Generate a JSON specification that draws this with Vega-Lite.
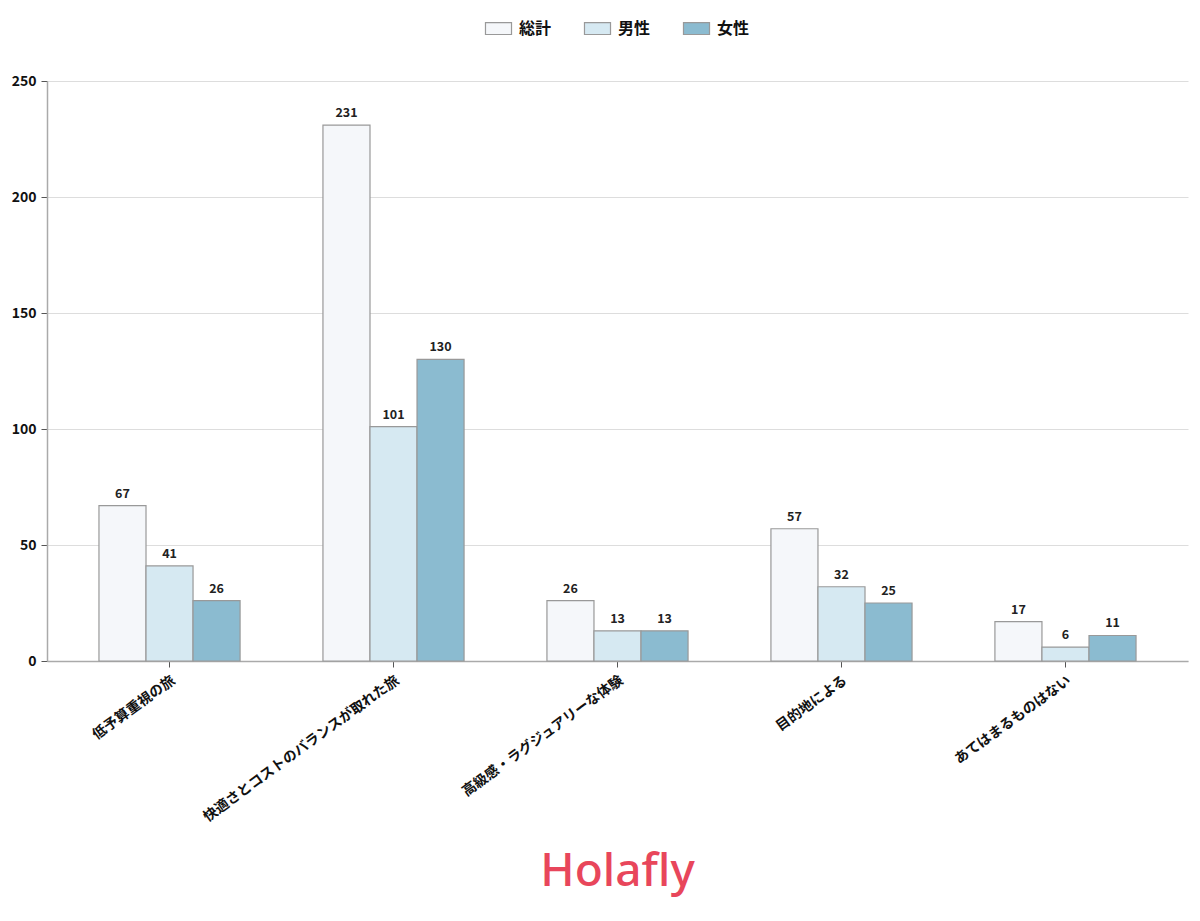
{
  "$schema": "https://vega.github.io/schema/vega-lite/v6.json",
  "autosize": {"type": "none"},
  "width": 1141,
  "height": 580,
  "padding": {"left": 47, "top": 81, "right": 12, "bottom": 260},
  "background": "white",
  "title": {
    "text": "Holafly",
    "orient": "bottom",
    "anchor": "middle",
    "offset": 26,
    "fontSize": 46,
    "font": "Noto Sans",
    "fontWeight": 500,
    "color": "#E8465B"
  },
  "config": {
    "font": "Noto Sans CJK JP",
    "view": {"stroke": null},
    "legend": {"layout": {"top": {"anchor": "middle"}}}
  },
  "data": {
    "values": [
      {"category": "低予算重視の旅", "group": "総計", "value": 67},
      {"category": "低予算重視の旅", "group": "男性", "value": 41},
      {"category": "低予算重視の旅", "group": "女性", "value": 26},
      {"category": "快適さとコストのバランスが取れた旅", "group": "総計", "value": 231},
      {"category": "快適さとコストのバランスが取れた旅", "group": "男性", "value": 101},
      {"category": "快適さとコストのバランスが取れた旅", "group": "女性", "value": 130},
      {"category": "高級感・ラグジュアリーな体験", "group": "総計", "value": 26},
      {"category": "高級感・ラグジュアリーな体験", "group": "男性", "value": 13},
      {"category": "高級感・ラグジュアリーな体験", "group": "女性", "value": 13},
      {"category": "目的地による", "group": "総計", "value": 57},
      {"category": "目的地による", "group": "男性", "value": 32},
      {"category": "目的地による", "group": "女性", "value": 25},
      {"category": "あてはまるものはない", "group": "総計", "value": 17},
      {"category": "あてはまるものはない", "group": "男性", "value": 6},
      {"category": "あてはまるものはない", "group": "女性", "value": 11}
    ]
  },
  "encoding": {
    "x": {
      "field": "category",
      "type": "nominal",
      "sort": null,
      "title": null,
      "scale": {"paddingInner": 0.37, "paddingOuter": 0.232},
      "axis": {
        "labelAngle": -36,
        "labelFontSize": 14,
        "labelFontWeight": "bold",
        "labelColor": "#111",
        "labelPadding": 6,
        "labelLimit": 0,
        "domainColor": "#aaa",
        "domainWidth": 1.5,
        "tickColor": "#555",
        "tickSize": 6,
        "grid": false
      }
    },
    "xOffset": {
      "field": "group",
      "type": "nominal",
      "sort": ["総計", "男性", "女性"]
    },
    "y": {
      "field": "value",
      "type": "quantitative",
      "title": null,
      "scale": {"domain": [0, 250]},
      "axis": {
        "values": [0, 50, 100, 150, 200, 250],
        "labelFontSize": 14,
        "labelFontWeight": "bold",
        "labelColor": "#111",
        "labelPadding": 5,
        "domainColor": "#aaa",
        "domainWidth": 1.5,
        "tickColor": "#555",
        "tickSize": 6,
        "gridColor": "#dddddd",
        "gridWidth": 1
      }
    }
  },
  "layer": [
    {
      "mark": {"type": "bar", "stroke": "#999999", "strokeWidth": 1.2},
      "encoding": {
        "color": {
          "field": "group",
          "type": "nominal",
          "title": null,
          "scale": {
            "domain": ["総計", "男性", "女性"],
            "range": ["#F5F7FA", "#D6E9F2", "#8BBBD0"]
          },
          "legend": {
            "orient": "top",
            "direction": "horizontal",
            "offset": 44,
            "symbolType": "M-1.1,-0.5H1.1V0.5H-1.1Z",
            "symbolSize": 560,
            "symbolStrokeColor": "#999999",
            "symbolStrokeWidth": 1.2,
            "labelFontSize": 16,
            "labelFontWeight": "bold",
            "labelColor": "#111",
            "labelOffset": 8,
            "columnPadding": 30
          }
        }
      }
    },
    {
      "mark": {
        "type": "text",
        "baseline": "bottom",
        "dy": -5,
        "fontSize": 12.5,
        "fontWeight": "bold",
        "color": "#222"
      },
      "encoding": {
        "text": {"field": "value", "type": "quantitative"}
      }
    }
  ]
}
